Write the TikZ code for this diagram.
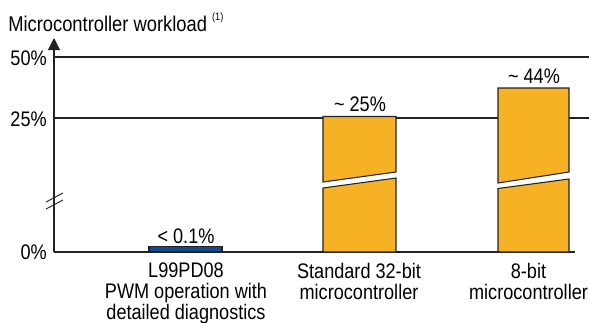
\documentclass[tikz,border=0pt]{standalone}
\usepackage{fontspec}
\setmainfont{Liberation Sans}[FakeStretch=0.86]
\usetikzlibrary{arrows.meta}
\definecolor{barorange}{HTML}{F6B224}
\definecolor{barblue}{HTML}{0E4C8E}
\definecolor{axisgray}{HTML}{222222}
\tikzset{
  lbl/.style={inner sep=0pt, font=\fontsize{15.8}{15.4}\selectfont, text=black},
  ttl/.style={inner sep=0pt, font=\fontsize{16}{16}\selectfont, text=black, anchor=base west},
  bar/.style={fill=barorange, draw=axisgray, line width=0.8pt, line join=miter},
  gridline/.style={draw=axisgray, line width=0.8pt},
}
\begin{document}
\begin{tikzpicture}[x=0.75pt,y=-0.75pt]
\useasboundingbox (0,0) rectangle (589,322);
% grid lines
\draw[gridline] (54,57) -- (589,57);
\draw[gridline] (54,118) -- (589,118);
\draw[gridline] (54,252) -- (575,252);
% y axis
\draw[gridline, -{Triangle[length=9pt,width=9pt]}] (54,252) -- (54,38);
% axis break
\draw[axisgray, line width=0.7pt] (46,202) -- (63,193);
\draw[axisgray, line width=0.7pt] (46,209) -- (63,200);
% axis labels
\node[lbl, anchor=east] (p50) at (47,58) {50\%};
\node[lbl, anchor=east] (p25) at (47,119) {25\%};
\node[lbl, anchor=east] (p0) at (47,252) {0\%};
\node[ttl] (title) at (8,31) {Microcontroller workload \raisebox{0.5em}{\fontsize{8}{9}\selectfont (1)}};
% bar 1
\draw[fill=barblue, draw=axisgray, line width=0.8pt] (149,246.5) rectangle (222,252);
\node[lbl] (v1) at (186,236) {< 0.1\%};
% bar 2
\draw[bar] (323,116.5) -- (396,116.5) -- (396,172) -- (323,182) -- cycle;
\draw[bar] (323,188) -- (396,178) -- (396,252) -- (323,252) -- cycle;
\node[lbl] (v2) at (360,104) {\textasciitilde\ 25\%};
% bar 3
\draw[bar] (498,88) -- (569,88) -- (569,172) -- (498,183) -- cycle;
\draw[bar] (498,188.5) -- (569,179) -- (569,252) -- (498,252) -- cycle;
\node[lbl] (v3) at (534,76) {\textasciitilde\ 44\%};
% category labels
\node[lbl, align=center, anchor=north] (c1) at (186,263) {L99PD08\\PWM operation with\\detailed diagnostics};
\node[lbl, align=center, anchor=north] (c2) at (359,263) {Standard 32-bit\\microcontroller};
\node[lbl, align=center, anchor=north] (c3) at (528.5,263) {8-bit\\microcontroller};
\end{tikzpicture}
\end{document}
